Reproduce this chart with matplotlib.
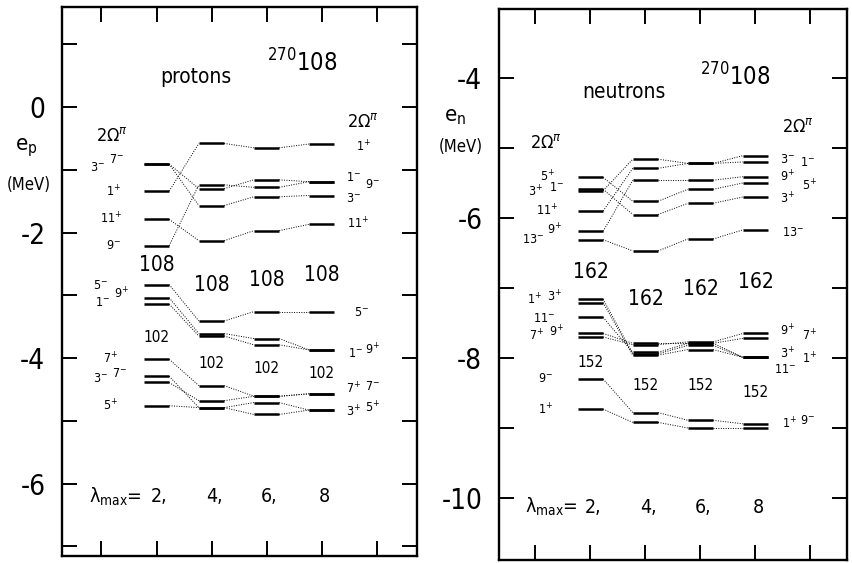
import matplotlib
matplotlib.use("Agg")
import matplotlib.pyplot as plt
from matplotlib import font_manager
from matplotlib.ticker import MultipleLocator

# === Data ===
lam = [2, 4, 6, 8]

# proton single-particle levels (MeV), one row per orbital, one value per lambda_max
p_levels = [
    [-1.34, -0.58, -0.65, -0.59],
    [-0.91, -1.57, -1.43, -1.41],
    [-0.91, -1.30, -1.16, -1.19],
    [-2.21, -1.24, -1.28, -1.19],
    [-1.79, -2.13, -1.97, -1.87],
    [-2.83, -3.41, -3.26, -3.26],
    [-3.04, -3.61, -3.69, -3.87],
    [-3.14, -3.65, -3.79, -3.87],
    [-4.02, -4.44, -4.61, -4.57],
    [-4.29, -4.79, -4.90, -4.83],
    [-4.39, -4.68, -4.61, -4.57],
    [-4.76, -4.79, -4.71, -4.83],
]

# neutron single-particle levels (MeV)
n_levels = [
    [-5.61, -5.16, -5.22, -5.20],
    [-5.90, -5.29, -5.22, -5.11],
    [-6.19, -5.46, -5.46, -5.41],
    [-5.42, -5.76, -5.59, -5.50],
    [-5.59, -5.95, -5.79, -5.70],
    [-6.31, -6.47, -6.30, -6.17],
    [-7.16, -7.94, -7.82, -7.99],
    [-7.21, -7.96, -7.88, -7.99],
    [-7.42, -7.92, -7.79, -7.99],
    [-7.65, -7.79, -7.79, -7.72],
    [-7.70, -7.81, -7.77, -7.65],
    [-8.30, -8.78, -8.89, -8.94],
    [-8.73, -8.92, -9.00, -9.00],
]

# shell-gap labels (text, energy at each lambda_max)
p_gaps = [("108", [-2.52, -2.84, -2.76, -2.68]), ("102", [-3.67, -4.08, -4.16, -4.24])]
n_gaps = [("162", [-6.77, -7.16, -7.01, -6.91]), ("152", [-8.06, -8.39, -8.39, -8.50])]

# 2Omega^pi labels: (2Omega, parity, x, energy)
p_left = [("3", "-", -0.16, -0.96), ("7", "-", 0.53, -0.84), ("1", "+", 0.42, -1.35),
          ("11", "+", 0.35, -1.78), ("9", "-", 0.42, -2.21), ("5", "-", -0.05, -2.84),
          ("1", "-", 0.02, -3.11), ("9", "+", 0.71, -2.98), ("7", "+", 0.31, -4.02),
          ("3", "-", -0.02, -4.32), ("7", "-", 0.67, -4.24), ("5", "+", 0.31, -4.76)]
p_right = [("1", "+", 9.51, -0.64), ("1", "-", 9.15, -1.12), ("9", "-", 9.84, -1.23),
           ("3", "-", 9.15, -1.45), ("11", "+", 9.33, -1.86), ("5", "-", 9.47, -3.27),
           ("1", "-", 9.22, -3.92), ("9", "+", 9.84, -3.87), ("7", "+", 9.15, -4.49),
           ("7", "-", 9.84, -4.45), ("3", "+", 9.15, -4.86), ("5", "+", 9.84, -4.80)]
n_left = [("5", "+", 0.42, -5.41), ("3", "+", 0.0, -5.63), ("1", "-", 0.78, -5.57),
          ("11", "+", 0.42, -5.90), ("13", "-", -0.09, -6.31), ("9", "+", 0.71, -6.17),
          ("1", "+", -0.02, -7.17), ("3", "+", 0.71, -7.13), ("11", "-", 0.31, -7.43),
          ("7", "+", 0.05, -7.69), ("9", "+", 0.75, -7.63), ("9", "-", 0.38, -8.30),
          ("1", "+", 0.38, -8.74)]
n_right = [("3", "-", 9.18, -5.17), ("1", "-", 9.91, -5.20), ("9", "+", 9.18, -5.41),
           ("5", "+", 9.98, -5.54), ("3", "+", 9.18, -5.73), ("13", "-", 9.36, -6.21),
           ("9", "+", 9.18, -7.61), ("7", "+", 9.98, -7.69), ("3", "+", 9.18, -7.94),
           ("1", "+", 9.98, -8.01), ("11", "-", 9.07, -8.17), ("1", "+", 9.25, -8.94),
           ("9", "-", 9.91, -8.89)]

# === Style ===
names = {f.name for f in font_manager.fontManager.ttflist}
print(sorted(n for n in names if "Narrow" in n or "Condensed" in n or "DejaVu" in n))
plt.rcParams.update({
    "font.family": ["DejaVu Sans"],
    "font.stretch": "condensed",
    "mathtext.fontset": "dejavusans",
    "axes.linewidth": 1.7,
})

fig = plt.figure(figsize=(8.52, 5.63), dpi=100)
ax_p = fig.add_axes([62 / 852, 7 / 563, 355 / 852, 549 / 563])
ax_n = fig.add_axes([499 / 852, 3 / 563, 348 / 852, 551 / 563])

HALF = 0.46  # half width of a level bar in lambda units


def draw_panel(ax, levels, gaps, left, right, ylim, xlim, yticks):
    for row in levels:
        for i, (l, e) in enumerate(zip(lam, row)):
            ax.plot([l - HALF, l + HALF], [e, e], color="black", lw=1.8,
                    solid_capstyle="butt")
            if i < len(lam) - 1:
                ax.plot([l + HALF, lam[i + 1] - HALF], [e, row[i + 1]],
                        color="black", lw=0.7, ls=(0, (1, 1.5)))
    for txt, ys in gaps:
        big = txt in ("108", "162")
        for l, y in zip(lam, ys):
            ax.text(l, y, txt, ha="center", va="center",
                    fontsize=15 if big else 11)
    for n, s, x, y in left + right:
        ax.text(x, y, "%s$^{%s}$" % (n, s), ha="center", va="center", fontsize=9)
    ax.set_xlim(*xlim)
    ax.set_ylim(*ylim)
    ax.xaxis.set_major_locator(MultipleLocator(2))
    ax.xaxis.set_ticklabels([])
    ax.set_yticks(yticks)
    ax.yaxis.set_minor_locator(MultipleLocator(1))
    ax.tick_params(which="both", direction="in", length=11, width=1.4,
                   top=True, right=True, labelsize=20, pad=12)
    ax.set_yticklabels(["%d" % t for t in yticks])


draw_panel(ax_p, p_levels, p_gaps, p_left, p_right,
           (-7.155, 1.594), (-1.436, 11.47), [0, -2, -4, -6])
draw_panel(ax_n, n_levels, n_gaps, n_left, n_right,
           (-10.886, -3.014), (-1.327, 11.33), [-4, -6, -8, -10])

# --- panel texts ---
ax_p.text(3.44, 0.48, "protons", ha="center", va="center", fontsize=15)
ax_p.text(7.29, 0.70, "$^{270}$108", ha="center", va="center", fontsize=17)
ax_p.text(0.38, -0.46, r"2$\Omega^{\pi}$", ha="center", va="center", fontsize=13)
ax_p.text(9.51, -0.24, r"2$\Omega^{\pi}$", ha="center", va="center", fontsize=13)
ax_p.text(-2.75, -0.65, "e$_{\\rm p}$", ha="center", va="center", fontsize=16,
          clip_on=False)
ax_p.text(-2.64, -1.24, "(MeV)", ha="center", va="center", fontsize=12,
          clip_on=False)
ax_p.text(1.45, -6.21, "λ$_{\\rm max}$=", ha="right", va="center", fontsize=14)
for l, t in zip(lam, ["2,", "4,", "6,", "8"]):
    ax_p.text(l + 0.1, -6.21, t, ha="center", va="center", fontsize=14)

ax_n.text(3.22, -4.20, "neutrons", ha="center", va="center", fontsize=15)
ax_n.text(7.25, -3.99, "$^{270}$108", ha="center", va="center", fontsize=17)
ax_n.text(0.38, -4.93, r"2$\Omega^{\pi}$", ha="center", va="center", fontsize=13)
ax_n.text(9.55, -4.70, r"2$\Omega^{\pi}$", ha="center", va="center", fontsize=13)
ax_n.text(-2.93, -4.56, "e$_{\\rm n}$", ha="center", va="center", fontsize=16,
          clip_on=False)
ax_n.text(-2.71, -4.99, "(MeV)", ha="center", va="center", fontsize=12,
          clip_on=False)
ax_n.text(1.55, -10.13, "λ$_{\\rm max}$=", ha="right", va="center", fontsize=14)
for l, t in zip(lam, ["2,", "4,", "6,", "8"]):
    ax_n.text(l + 0.1, -10.13, t, ha="center", va="center", fontsize=14)

fig.savefig("out.png", dpi=100)
